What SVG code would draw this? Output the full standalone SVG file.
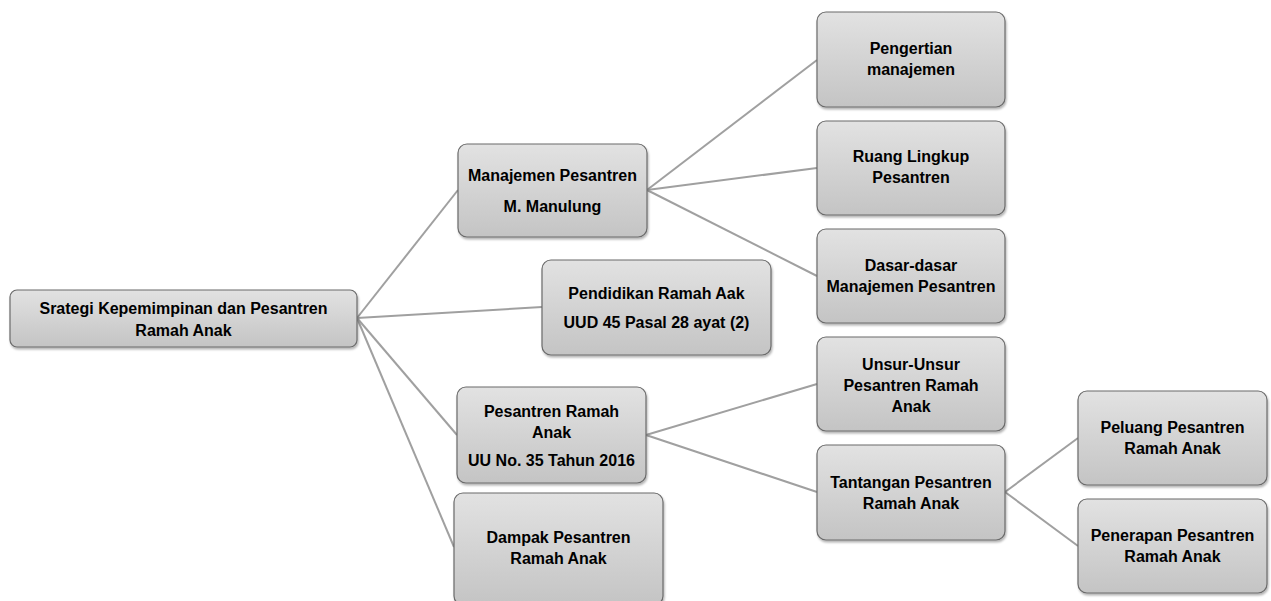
<svg xmlns="http://www.w3.org/2000/svg" width="1271" height="601" viewBox="0 0 1271 601">
<defs>
<linearGradient id="g" x1="0" y1="0" x2="0" y2="1">
<stop offset="0" stop-color="#e2e2e2"/>
<stop offset="1" stop-color="#c4c4c4"/>
</linearGradient>
<filter id="sh" x="-10%" y="-10%" width="125%" height="130%">
<feDropShadow dx="1" dy="2" stdDeviation="1.2" flood-color="#000" flood-opacity="0.3"/>
</filter>
<style>
.b{fill:url(#g);stroke:#6b6b6b;stroke-width:1.2;filter:url(#sh)}
.t{font-family:"Liberation Sans",Arial,sans-serif;font-weight:bold;font-size:16px;fill:#000;text-anchor:middle}
.c{stroke:#a0a0a0;stroke-width:2;fill:none}
</style>
</defs>
<rect width="1271" height="601" fill="#fff"/>
<g id="connectors">
<line class="c" x1="357" y1="318" x2="458" y2="190"/>
<line class="c" x1="357" y1="318" x2="542" y2="307"/>
<line class="c" x1="357" y1="318" x2="457" y2="435"/>
<line class="c" x1="357" y1="318" x2="454" y2="547"/>
<line class="c" x1="647" y1="190" x2="817" y2="60"/>
<line class="c" x1="647" y1="190" x2="817" y2="168"/>
<line class="c" x1="647" y1="190" x2="817" y2="276"/>
<line class="c" x1="646" y1="435" x2="817" y2="384"/>
<line class="c" x1="646" y1="435" x2="817" y2="492"/>
<line class="c" x1="1005" y1="492" x2="1078" y2="438"/>
<line class="c" x1="1005" y1="492" x2="1078" y2="546"/>
</g>
<g id="root">
<rect class="b" x="10" y="290" width="347" height="57" rx="7"/>
<text class="t" x="183.5" y="314">Srategi Kepemimpinan dan Pesantren</text>
<text class="t" x="183.5" y="336">Ramah Anak</text>
</g>
<g id="manajemen">
<rect class="b" x="458" y="144" width="189" height="93" rx="9"/>
<text class="t" x="552.5" y="181">Manajemen Pesantren</text>
<text class="t" x="552.5" y="212">M. Manulung</text>
</g>
<g id="pendidikan">
<rect class="b" x="542" y="260" width="229" height="95" rx="9"/>
<text class="t" x="656.5" y="299">Pendidikan Ramah Aak</text>
<text class="t" x="656.5" y="328">UUD 45 Pasal 28 ayat (2)</text>
</g>
<g id="pesantren">
<rect class="b" x="457" y="387" width="189" height="96" rx="9"/>
<text class="t" x="551.5" y="417">Pesantren Ramah</text>
<text class="t" x="551.5" y="438">Anak</text>
<text class="t" x="551.5" y="466">UU No. 35 Tahun 2016</text>
</g>
<g id="dampak">
<rect class="b" x="454" y="493" width="209" height="112" rx="9"/>
<text class="t" x="558.5" y="543">Dampak Pesantren</text>
<text class="t" x="558.5" y="564">Ramah Anak</text>
</g>
<g id="pengertian">
<rect class="b" x="817" y="12" width="188" height="95" rx="9"/>
<text class="t" x="911" y="54">Pengertian</text>
<text class="t" x="911" y="75">manajemen</text>
</g>
<g id="ruang">
<rect class="b" x="817" y="121" width="188" height="94" rx="9"/>
<text class="t" x="911" y="162">Ruang Lingkup</text>
<text class="t" x="911" y="183">Pesantren</text>
</g>
<g id="dasar">
<rect class="b" x="817" y="229" width="188" height="94" rx="9"/>
<text class="t" x="911" y="271">Dasar-dasar</text>
<text class="t" x="911" y="292">Manajemen Pesantren</text>
</g>
<g id="unsur">
<rect class="b" x="817" y="337" width="188" height="94" rx="9"/>
<text class="t" x="911" y="370">Unsur-Unsur</text>
<text class="t" x="911" y="391">Pesantren Ramah</text>
<text class="t" x="911" y="412">Anak</text>
</g>
<g id="tantangan">
<rect class="b" x="817" y="445" width="188" height="95" rx="9"/>
<text class="t" x="911" y="488">Tantangan Pesantren</text>
<text class="t" x="911" y="509">Ramah Anak</text>
</g>
<g id="peluang">
<rect class="b" x="1078" y="391" width="189" height="94" rx="9"/>
<text class="t" x="1172.5" y="433">Peluang Pesantren</text>
<text class="t" x="1172.5" y="454">Ramah Anak</text>
</g>
<g id="penerapan">
<rect class="b" x="1078" y="499" width="189" height="94" rx="9"/>
<text class="t" x="1172.5" y="541">Penerapan Pesantren</text>
<text class="t" x="1172.5" y="562">Ramah Anak</text>
</g>
</svg>
